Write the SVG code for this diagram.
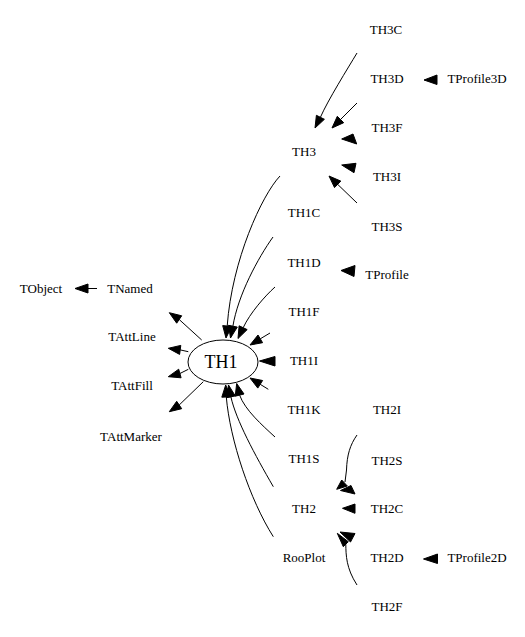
<svg xmlns="http://www.w3.org/2000/svg" width="525" height="637" viewBox="0 0 525 637">
<style>
  text { font-family: "Liberation Serif", "Times New Roman", serif; font-size: 13px; fill: #000; text-anchor: middle; }
  .big { font-size: 18px; }
  .edge { fill: none; stroke: #000; stroke-width: 1; }
  .head { fill: #000; stroke: #000; stroke-width: 1; stroke-linejoin: miter; }
  .node-shape { fill: #fff; stroke: #000; stroke-width: 1; }
</style>
<rect width="525" height="637" fill="#fff"/>
<g id="connectors">
  <!-- TH3 group -->
  <path class="edge" d="M357,53 C348,68 328,100 320.4,117.3"/>
  <polygon class="head" points="315,128 324.4,119.3 316.4,115.3"/>
  <path class="edge" d="M357,103 L340.5,119.5"/>
  <polygon class="head" points="332,128 343.7,122.7 337.3,116.3"/>
  <polygon class="head" points="341.7,139 353,134 356.7,144"/>
  <polygon class="head" points="341.7,165 356,163.3 354,172.7"/>
  <path class="edge" d="M357,203 L337.6,184.3"/>
  <polygon class="head" points="329,176 340.8,181.1 334.5,187.6"/>
  <polygon class="head" points="424,80 437,75 437,84.5"/>
  <!-- into TH1 from above -->
  <path class="edge" d="M280,176 C262,195 232,260 227.2,326"/>
  <polygon class="head" points="226,338 231.7,326.5 222.7,325.6"/>
  <path class="edge" d="M273,237 C258,258 238,295 232.9,326.2"/>
  <polygon class="head" points="230.5,338 237.3,327.1 228.5,325.3"/>
  <path class="edge" d="M275,287 C265,296 250,313 243.2,327.7"/>
  <polygon class="head" points="238,338.5 247.2,329.6 239.1,325.8"/>
  <path class="edge" d="M270,333 L260.3,338.8"/>
  <polygon class="head" points="250,345 262.6,342.7 258,335"/>
  <polygon class="head" points="259.5,361 275,356.5 275,366"/>
  <path class="edge" d="M268.3,389.3 L260.2,384.3"/>
  <polygon class="head" points="250,378 262.6,380.5 257.8,388.1"/>
  <!-- into TH1 from below -->
  <path class="edge" d="M275,437 C262,425 245,410 239.6,395.1"/>
  <polygon class="head" points="236.7,383.5 244,394 235.2,396.2"/>
  <path class="edge" d="M273.3,486.7 C255,455 236,420 230.9,396.8"/>
  <polygon class="head" points="228.5,385 235.3,395.9 226.5,397.7"/>
  <path class="edge" d="M273.3,536.7 C250,500 230,440 226.3,397"/>
  <polygon class="head" points="225.7,385 230.8,396.8 221.8,397.2"/>
  <!-- TProfile -> TH1D -->
  <polygon class="head" points="341,270.5 355,265.5 354,276.5"/>
  <!-- TH1 to bases -->
  <path class="edge" d="M201.7,340 L179.2,319.5"/>
  <polygon class="head" points="169.3,312.7 181.7,315.8 176.7,323.2"/>
  <path class="edge" d="M188.3,351.7 L180.2,349.9"/>
  <polygon class="head" points="168.3,348.3 180.8,345.4 179.6,354.4"/>
  <path class="edge" d="M188.3,369.3 L179.9,373.5"/>
  <polygon class="head" points="168.3,376.7 181.1,377.8 178.7,369.2"/>
  <path class="edge" d="M203.3,381.7 L179.2,405"/>
  <polygon class="head" points="169.3,411.7 181.7,408.7 176.7,401.3"/>
  <!-- TNamed -> TObject -->
  <path class="edge" d="M97,288.5 L88,288.5"/>
  <polygon class="head" points="75,288.5 88,284 88,293"/>
  <!-- TH2 group -->
  <path class="edge" d="M357,435 C350,445 347,455 346.5,470 L345,482"/>
  <polygon class="head" points="336.7,489.3 341.7,480 347.3,486"/>
  <polygon class="head" points="340.5,490.5 351,485.5 355,494"/>
  <polygon class="head" points="342.5,508.3 355,504 355,513.3"/>
  <path class="edge" d="M345.8,544.2 C346,555 346,568 357,585"/>
  <polygon class="head" points="337.3,533.3 343.3,546.7 348.3,541.7"/>
  <polygon class="head" points="340,532 355,533.5 350.5,542"/>
  <polygon class="head" points="423.5,559 437.5,554 437.5,563.5"/>
</g>
<g id="TH1">
  <ellipse class="node-shape" cx="223" cy="362" rx="35" ry="22"/>
  <text class="big" x="221" y="368">TH1</text>
</g>
<g id="TObject"><text x="41" y="293">TObject</text></g>
<g id="TNamed"><text x="130" y="293">TNamed</text></g>
<g id="TAttLine"><text x="132" y="341">TAttLine</text></g>
<g id="TAttFill"><text x="132" y="390">TAttFill</text></g>
<g id="TAttMarker"><text x="131" y="441">TAttMarker</text></g>
<g id="TH3"><text x="304" y="156">TH3</text></g>
<g id="TH3C"><text x="386" y="34">TH3C</text></g>
<g id="TH3D"><text x="387" y="83">TH3D</text></g>
<g id="TProfile3D"><text x="477" y="83">TProfile3D</text></g>
<g id="TH3F"><text x="387" y="132">TH3F</text></g>
<g id="TH3I"><text x="387" y="181">TH3I</text></g>
<g id="TH3S"><text x="387" y="231">TH3S</text></g>
<g id="TH1C"><text x="304" y="217">TH1C</text></g>
<g id="TH1D"><text x="304" y="267">TH1D</text></g>
<g id="TProfile"><text x="387" y="279">TProfile</text></g>
<g id="TH1F"><text x="304" y="316">TH1F</text></g>
<g id="TH1I"><text x="304" y="365">TH1I</text></g>
<g id="TH1K"><text x="304" y="414">TH1K</text></g>
<g id="TH1S"><text x="304" y="463">TH1S</text></g>
<g id="TH2"><text x="304" y="513">TH2</text></g>
<g id="RooPlot"><text x="304" y="562">RooPlot</text></g>
<g id="TH2I"><text x="387" y="414">TH2I</text></g>
<g id="TH2S"><text x="387" y="465">TH2S</text></g>
<g id="TH2C"><text x="387" y="513">TH2C</text></g>
<g id="TH2D"><text x="387" y="562">TH2D</text></g>
<g id="TProfile2D"><text x="477" y="562">TProfile2D</text></g>
<g id="TH2F"><text x="387" y="611">TH2F</text></g>
</svg>
